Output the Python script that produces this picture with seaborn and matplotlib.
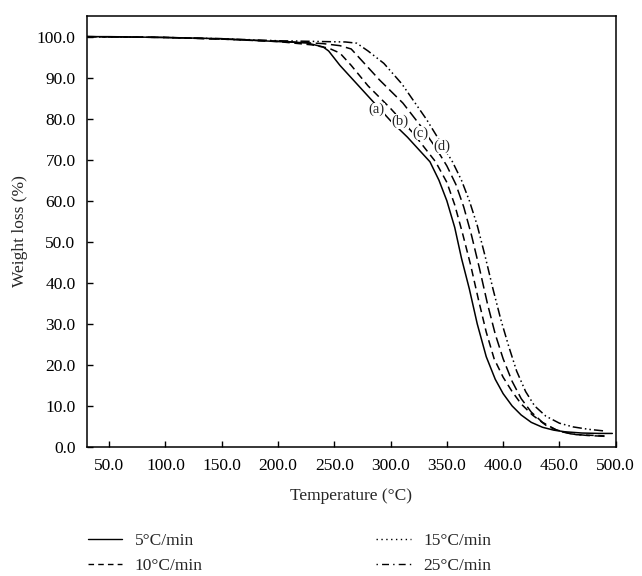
import pandas as pd
import matplotlib.pyplot as plt
import seaborn as sns
from matplotlib.lines import Line2D

# heating rates and read-off TGA curves (temperature in C, weight in %)
rates = ["5°C/min", "10°C/min", "15°C/min", "25°C/min"]
curve_labels = ["(a)", "(b)", "(c)", "(d)"]

temp_5 = [30, 50, 100, 150, 200, 225, 240, 245, 255, 270, 285, 300, 315, 325, 335,
          343, 350, 357, 363, 370, 377, 385, 393, 400, 408, 416, 425, 435, 445, 455, 470, 485, 497]
wt_5 = [100, 100, 99.8, 99.5, 98.8, 98.5, 97.5, 96.5, 93, 88.5, 84, 79.5, 75.5, 72.5, 69.5,
        65, 60, 53.5, 46, 38.5, 30, 22, 16.5, 13, 10, 7.8, 6, 4.8, 4.1, 3.7, 3.4, 3.3, 3.3]

temp_10 = [30, 100, 150, 200, 230, 245, 255, 265, 280, 300, 310, 320, 330, 340, 350,
           357, 364, 371, 378, 385, 392, 400, 408, 416, 426, 438, 450, 465, 490]
wt_10 = [100, 99.8, 99.4, 98.8, 98, 97.2, 96, 93, 88, 82.5, 79.5, 76.5, 73, 69.5, 64.5,
         59, 52, 44.5, 36, 28, 21.5, 17, 13.5, 10.5, 7.8, 5.3, 3.8, 3.0, 2.7]

temp_15 = [30, 100, 150, 200, 240, 255, 265, 275, 290, 311, 326, 340, 350, 358, 365,
           372, 379, 386, 393, 400, 408, 416, 425, 435, 447, 460, 475, 490]
wt_15 = [100, 99.8, 99.4, 98.9, 98.3, 97.8, 97, 94, 89.5, 83.8, 78.5, 73, 68.5, 64, 58.5,
         51.5, 43.5, 35, 27.5, 21.5, 16, 11.8, 8.5, 6, 4.2, 3.2, 2.8, 2.6]

temp_25 = [30, 100, 150, 200, 240, 260, 270, 280, 294, 310, 332, 345, 355, 363, 370,
           377, 384, 391, 398, 405, 412, 420, 428, 438, 450, 462, 476, 490]
wt_25 = [100, 99.8, 99.5, 99, 98.8, 98.7, 98.4, 96.5, 93.5, 88.5, 79.8, 74, 69.5, 65, 60,
         54, 46.5, 38.5, 31, 24.5, 18.5, 13.5, 10, 7.5, 5.8, 4.9, 4.3, 3.9]

label_temp = [287.7, 308.4, 326.2, 345.5]
label_wt = [82.2, 79.3, 76.5, 73.2]

frames = []
for rate, t, w in zip(rates, [temp_5, temp_10, temp_15, temp_25], [wt_5, wt_10, wt_15, wt_25]):
    frames.append(pd.DataFrame({"Temperature": t, "Weight": w, "Rate": rate}))
df = pd.concat(frames, ignore_index=True)

sns.set_theme(style="ticks")
plt.rcParams["font.family"] = ["Liberation Serif", "DejaVu Serif"]

fig = plt.figure(figsize=(6.42, 5.76), dpi=100)
ax = fig.add_axes([0.135, 0.224, 0.824, 0.748])

curve_dashes = {
    rates[0]: "",
    rates[1]: (5, 3),
    rates[2]: (7, 3),
    rates[3]: (6, 2, 1, 2, 1, 2),
}
sns.lineplot(data=df, x="Temperature", y="Weight", hue="Rate", style="Rate",
             palette=["black"] * 4, dashes=curve_dashes, estimator=None, sort=False,
             linewidth=1.1, legend=False, ax=ax)

for lab, t, w in zip(curve_labels, label_temp, label_wt):
    ax.text(t, w, lab, ha="center", va="center", fontsize=10.5,
            bbox=dict(facecolor="white", edgecolor="none", pad=0.3))

ax.set_xlim(30, 500)
ax.set_ylim(0, 105)
ax.set_xticks(range(50, 501, 50))
ax.set_yticks(range(0, 101, 10))
ax.set_xticklabels([f"{v:.1f}" for v in range(50, 501, 50)])
ax.set_yticklabels([f"{v:.1f}" for v in range(0, 101, 10)])
ax.tick_params(direction="in", length=4, width=1, labelsize=12.5, colors="black", pad=8)
for s in ax.spines.values():
    s.set_color("black")
    s.set_linewidth(1.1)
ax.set_xlabel("Temperature (°C)", fontsize=12.5, labelpad=10)
ax.set_ylabel("Weight loss (%)", fontsize=12.5, labelpad=6)

handles = [
    Line2D([], [], color="black", lw=1.0, linestyle="-"),
    Line2D([], [], color="black", lw=1.0, linestyle=(0, (4, 3))),
    Line2D([], [], color="black", lw=1.0, linestyle=(0, (1, 2.5))),
    Line2D([], [], color="black", lw=1.0, linestyle=(0, (1, 3, 5, 3))),
]
fig.legend(handles, rates, ncol=2, loc="upper left", bbox_to_anchor=(0.126, 0.087),
           frameon=False, fontsize=12.5, handlelength=1.96, handletextpad=0.75,
           columnspacing=10.0, labelspacing=0.5, borderaxespad=0)

fig.savefig("out.png", dpi=100)
